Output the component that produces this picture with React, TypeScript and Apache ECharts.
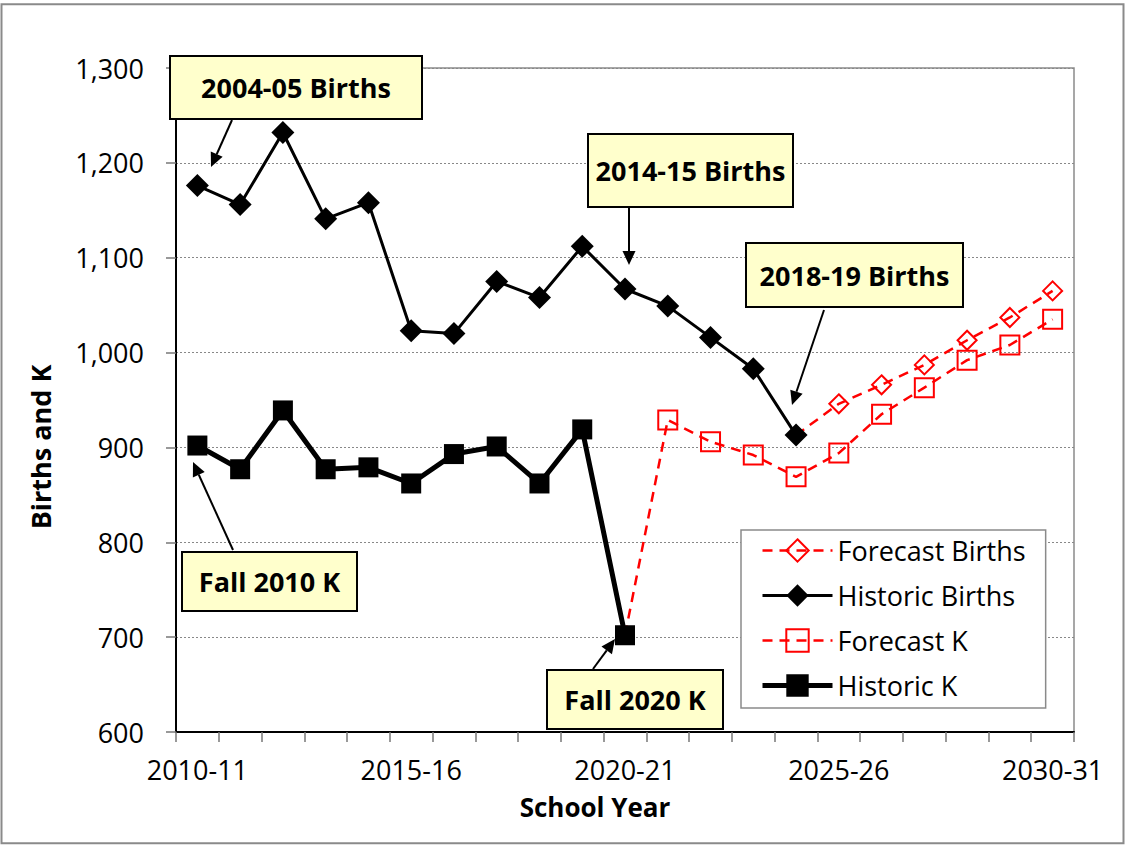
import React, { useEffect, useRef } from "react";
import * as echarts from "echarts";

const years = [
  "2010-11", "2011-12", "2012-13", "2013-14", "2014-15", "2015-16", "2016-17",
  "2017-18", "2018-19", "2019-20", "2020-21", "2021-22", "2022-23", "2023-24",
  "2024-25", "2025-26", "2026-27", "2027-28", "2028-29", "2029-30", "2030-31",
];

const historicBirths = [
  1176, 1156, 1232, 1141, 1158, 1023, 1020, 1075, 1058, 1112, 1067, 1049, 1016,
  983, 913, null, null, null, null, null, null,
];
const forecastBirths = [
  null, null, null, null, null, null, null, null, null, null, null, null, null,
  null, 913, 946, 966, 987, 1013, 1037, 1065,
];
const historicK = [
  902, 877, 939, 877, 879, 862, 893, 901, 862, 919, 702, null, null, null, null,
  null, null, null, null, null, null,
];
const forecastK = [
  null, null, null, null, null, null, null, null, null, null, 702, 929, 906,
  892, 869, 894, 935, 963, 992, 1008, 1035,
];

const callouts = [
  { text: "2004-05 Births", box: [170, 56, 252, 63], arrow: [232, 120, 211, 167] },
  { text: "2014-15 Births", box: [588, 134, 205, 73], arrow: [629, 207, 629, 265] },
  { text: "2018-19 Births", box: [746, 243, 217, 64], arrow: [824, 310, 792, 405] },
  { text: "Fall 2010 K", box: [182, 552, 175, 59], arrow: [233, 550, 193, 462] },
  { text: "Fall 2020 K", box: [547, 670, 176, 59], arrow: [593, 669, 615, 639] },
];

const FONT = '"Open Sans", "Liberation Sans", sans-serif';
const RED = "#FF0000";

function firstIndex(arr: (number | null)[]) {
  return arr.findIndex((v) => v !== null);
}

function withHiddenFirst(arr: (number | null)[]) {
  const f = firstIndex(arr);
  return arr.map((v, i) => (i === f ? { value: v, symbol: "none" } : v));
}

function arrowEls(a: number[]) {
  const [x1, y1, x2, y2] = a;
  const ang = Math.atan2(y2 - y1, x2 - x1);
  const L = 14;
  const W = 6.5;
  const c = Math.cos(ang);
  const s = Math.sin(ang);
  const bx = x2 - L * c;
  const by = y2 - L * s;
  return [
    {
      type: "line",
      z: 100,
      shape: { x1, y1, x2: bx, y2: by },
      style: { stroke: "#000", lineWidth: 2 },
    },
    {
      type: "polygon",
      z: 100,
      shape: {
        points: [
          [x2, y2],
          [bx - W * s, by + W * c],
          [bx + W * s, by - W * c],
        ],
      },
      style: { fill: "#000" },
    },
  ];
}

function calloutEls(c: { text: string; box: number[] }) {
  const [x, y, w, h] = c.box;
  return [
    {
      type: "rect",
      z: 100,
      shape: { x, y, width: w, height: h },
      style: { fill: "#FFFFCC", stroke: "#000", lineWidth: 2 },
    },
    {
      type: "text",
      z: 101,
      x: x + w / 2,
      y: y + h / 2,
      style: {
        text: c.text,
        fill: "#000",
        font: `bold 27px ${FONT}`,
        align: "center",
        verticalAlign: "middle",
      },
    },
  ];
}

export default function App() {
  const ref = useRef<HTMLDivElement>(null);

  useEffect(() => {
    if (!ref.current) return;
    const chart = echarts.init(ref.current, undefined, { renderer: "svg" });

    const graphics: any[] = [
      {
        type: "rect",
        z: 0,
        shape: { x: 1.5, y: 4.3, width: 1122, height: 839 },
        style: { fill: "none", stroke: "#8a8a8a", lineWidth: 2 },
      },
    ];
    callouts.forEach((c) => {
      graphics.push(...arrowEls(c.arrow));
      graphics.push(...calloutEls(c));
    });

    const option: any = {
      animation: false,
      backgroundColor: "#fff",
      textStyle: { fontFamily: FONT },
      grid: {
        left: 176,
        right: 52,
        top: 68,
        bottom: 114,
        show: true,
        borderColor: "#8a8a8a",
        borderWidth: 1.5,
        backgroundColor: "transparent",
      },
      legend: {
        orient: "vertical",
        left: 741,
        top: 530,
        padding: [7, 20, 9, 19],
        itemWidth: 70,
        itemHeight: 28,
        itemGap: 18,
        backgroundColor: "#fff",
        borderColor: "#8a8a8a",
        borderWidth: 1.5,
        borderRadius: 0,
        textStyle: { fontFamily: FONT, fontSize: 27, color: "#000" },
        data: [
          { name: "Forecast Births", lineStyle: { width: 2.5 } },
          { name: "Historic Births", lineStyle: { width: 3 } },
          { name: "Forecast K", lineStyle: { width: 2.5 } },
          { name: "Historic K", lineStyle: { width: 5 } },
        ],
      },
      xAxis: {
        type: "category",
        data: years,
        boundaryGap: true,
        name: "School Year",
        nameLocation: "middle",
        nameGap: 62,
        nameTextStyle: {
          fontFamily: FONT,
          fontWeight: "bold",
          fontSize: 26,
          color: "#000",
          padding: [0, 60, 0, 0],
        },
        axisLine: { lineStyle: { color: "#000", width: 2 } },
        axisTick: {
          show: true,
          interval: 0,
          length: 10,
          lineStyle: { color: "#777", width: 1.5 },
        },
        axisLabel: {
          interval: 4,
          fontSize: 27,
          color: "#000",
          margin: 24,
          fontFamily: FONT,
        },
        splitLine: { show: false },
      },
      yAxis: {
        type: "value",
        min: 600,
        max: 1300,
        interval: 100,
        name: "Births and K",
        nameLocation: "middle",
        nameRotate: 90,
        nameGap: 122,
        nameTextStyle: {
          fontFamily: FONT,
          fontWeight: "bold",
          fontSize: 27,
          color: "#000",
          padding: [0, 94, 0, 0],
        },
        axisLine: { show: true, lineStyle: { color: "#000", width: 2 } },
        axisTick: {
          show: true,
          length: 10,
          lineStyle: { color: "#777", width: 1.5 },
        },
        axisLabel: {
          formatter: (v: number) => v.toLocaleString("en-US"),
          fontSize: 27,
          color: "#000",
          margin: 32,
          fontFamily: FONT,
        },
        splitLine: {
          show: true,
          lineStyle: { color: "#888", type: [2, 2], width: 1 },
        },
      },
      series: [
        {
          name: "Forecast Births",
          type: "line",
          data: withHiddenFirst(forecastBirths),
          symbol: "diamond",
          symbolSize: 19,
          lineStyle: { color: RED, width: 2.5, type: [10, 7] },
          itemStyle: {
            color: "rgba(255,255,255,0)",
            borderColor: RED,
            borderWidth: 2,
          },
          z: 2,
        },
        {
          name: "Historic Births",
          type: "line",
          data: historicBirths,
          symbol: "diamond",
          symbolSize: 23,
          lineStyle: { color: "#000", width: 3 },
          itemStyle: { color: "#000" },
          z: 3,
        },
        {
          name: "Forecast K",
          type: "line",
          data: withHiddenFirst(forecastK),
          symbol: "rect",
          symbolSize: 19,
          lineStyle: { color: RED, width: 2.5, type: [10, 7] },
          itemStyle: {
            color: "rgba(255,255,255,0)",
            borderColor: RED,
            borderWidth: 2,
          },
          z: 2,
        },
        {
          name: "Historic K",
          type: "line",
          data: historicK,
          symbol: "rect",
          symbolSize: 20,
          lineStyle: { color: "#000", width: 5 },
          itemStyle: { color: "#000" },
          z: 3,
        },
      ],
      graphic: graphics,
    };

    chart.setOption(option);
    return () => chart.dispose();
  }, []);

  return (
    <div
      ref={ref}
      style={{
        position: "absolute",
        left: 0,
        top: 0,
        width: 1126,
        height: 846,
        background: "#fff",
      }}
    />
  );
}
